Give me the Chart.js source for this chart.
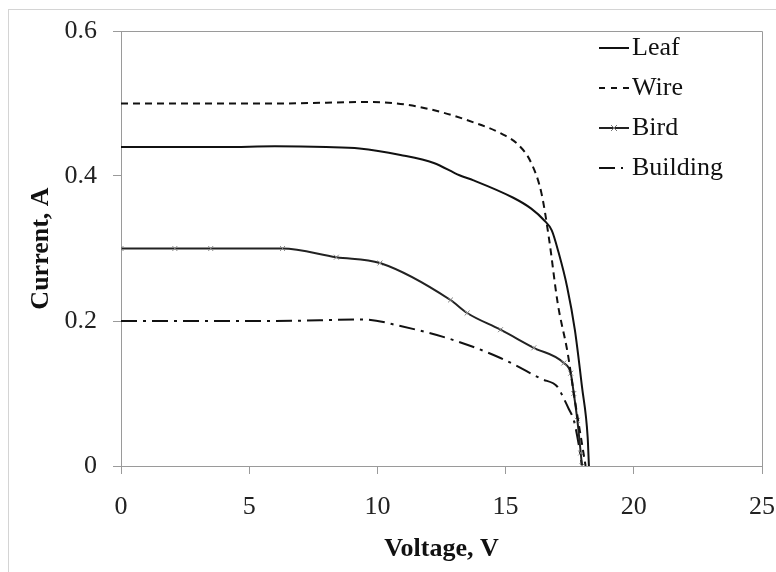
<!DOCTYPE html>
<html>
<head>
<meta charset="utf-8">
<title>I-V curves</title>
<script src="https://cdn.jsdelivr.net/npm/chart.js@4.4.1/dist/chart.umd.min.js"></script>
<style>
    html, body { margin: 0; padding: 0; background: #fff; }
    #wrap { width: 776px; height: 572px; }
</style>
</head>
<body>
<div id="wrap"><canvas id="ivChart" width="776" height="572"></canvas></div>
<script>
// Series (voltage in V, current in A)
const seriesNames = ['Leaf', 'Wire', 'Bird', 'Building'];

const leafV = [0, 2, 4, 6, 8, 9.3, 10.9, 12.2, 13.2, 13.75, 15.3, 16.0, 16.5, 16.8, 17.07, 17.4, 17.7, 17.98, 18.2, 18.25];
const leafI = [0.44, 0.44, 0.44, 0.441, 0.44, 0.438, 0.429, 0.418, 0.401, 0.394, 0.37, 0.355, 0.339, 0.325, 0.294, 0.247, 0.188, 0.109, 0.04, 0];

const wireV = [0, 3, 6, 9.6, 11.2, 12.5, 13.75, 14.8, 15.5, 16.0, 16.4, 16.7, 17.03, 17.42, 17.66, 18.0, 18.12];
const wireI = [0.5, 0.5, 0.5, 0.502, 0.498, 0.488, 0.474, 0.459, 0.443, 0.418, 0.376, 0.312, 0.225, 0.156, 0.1, 0.026, 0];

const birdV = [0, 2.1, 3.5, 6.3, 8.4, 10.1, 12.85, 13.5, 14.8, 16.1, 17.27, 17.54, 17.66, 17.8, 17.93, 17.98];
const birdI = [0.3, 0.3, 0.3, 0.3, 0.288, 0.28, 0.229, 0.211, 0.188, 0.163, 0.142, 0.128, 0.1, 0.063, 0.018, 0];

const buildingV = [0, 3, 6, 9.5, 10.9, 12.85, 14.8, 16.4, 17.03, 17.2, 17.46, 17.66, 17.85, 17.98];
const buildingI = [0.2, 0.2, 0.2, 0.202, 0.193, 0.175, 0.149, 0.12, 0.109, 0.098, 0.079, 0.063, 0.03, 0];

// Axis ticks
const xTicks = [0, 5, 10, 15, 20, 25];
const yTicks = [0, 0.2, 0.4, 0.6];

const serif = "'Liberation Serif', 'Times New Roman', serif";

// turn two arrays into {x, y} points
function toPoints(vs, is) {
    return vs.map((v, i) => ({ x: v, y: is[i] }));
}

// white background + light outer frame
const framePlugin = {
    id: 'frame',
    beforeDraw(chart) {
        const ctx = chart.ctx;
        ctx.save();
        ctx.fillStyle = '#fff';
        ctx.fillRect(0, 0, chart.width, chart.height);
        ctx.strokeStyle = '#d4d4d4';
        ctx.lineWidth = 1;
        ctx.strokeRect(8.5, 9.5, chart.width + 20, chart.height + 20);
        ctx.restore();
    },
    afterDraw(chart) {
        // top and right edge of the plot area
        const a = chart.chartArea;
        const ctx = chart.ctx;
        ctx.save();
        ctx.strokeStyle = '#9a9a9a';
        ctx.lineWidth = 1;
        ctx.beginPath();
        ctx.moveTo(Math.round(a.left) + 0.5, Math.round(a.top) + 0.5);
        ctx.lineTo(Math.round(a.right) + 0.5, Math.round(a.top) + 0.5);
        ctx.lineTo(Math.round(a.right) + 0.5, Math.round(a.bottom) + 0.5);
        ctx.stroke();
        ctx.restore();
    }
};

// legend drawn by hand so the line samples show the dash patterns
const legendPlugin = {
    id: 'lineLegend',
    afterDraw(chart) {
        const ctx = chart.ctx;
        ctx.save();
        ctx.font = '26px ' + serif;
        ctx.textBaseline = 'middle';
        ctx.fillStyle = '#111';
        chart.data.datasets.forEach((ds, i) => {
            const y = 48 + i * 40;
            ctx.strokeStyle = ds.borderColor;
            ctx.lineWidth = 2;
            ctx.setLineDash(ds.legendDash || []);
            ctx.beginPath();
            ctx.moveTo(599, y);
            ctx.lineTo(629, y);
            ctx.stroke();
            ctx.setLineDash([]);
            if (ds.pointRadius > 0) {
                ctx.strokeStyle = '#777';
                ctx.lineWidth = 1;
                ctx.beginPath();
                ctx.moveTo(611, y - 3); ctx.lineTo(617, y + 3);
                ctx.moveTo(617, y - 3); ctx.lineTo(611, y + 3);
                ctx.stroke();
            }
            ctx.fillText(ds.label, 632, y);
        });
        ctx.restore();
    }
};

const ctx = document.getElementById('ivChart').getContext('2d');

new Chart(ctx, {
    type: 'line',
    data: {
        datasets: [
            {
                label: seriesNames[0],
                data: toPoints(leafV, leafI),
                borderColor: '#111',
                borderWidth: 2,
                pointRadius: 0
            },
            {
                label: seriesNames[1],
                data: toPoints(wireV, wireI),
                borderColor: '#111',
                borderWidth: 2,
                borderDash: [7, 5],
                legendDash: [6, 6],
                pointRadius: 0
            },
            {
                label: seriesNames[2],
                data: toPoints(birdV, birdI),
                borderColor: '#222',
                borderWidth: 2,
                pointRadius: 3.5,
                pointStyle: 'crossRot',
                pointBorderColor: '#888',
                pointBorderWidth: 1
            },
            {
                label: seriesNames[3],
                data: toPoints(buildingV, buildingI),
                borderColor: '#111',
                borderWidth: 2,
                borderDash: [16, 6, 3, 6],
                legendDash: [16, 6, 2, 6],
                pointRadius: 0
            }
        ]
    },
    options: {
        responsive: false,
        animation: false,
        cubicInterpolationMode: 'monotone',
        layout: { padding: { top: 31, right: 14, left: 0, bottom: 0 } },
        plugins: {
            legend: { display: false },
            tooltip: { enabled: false }
        },
        scales: {
            x: {
                type: 'linear',
                min: 0,
                max: 25,
                afterBuildTicks: (scale) => { scale.ticks = xTicks.map(v => ({ value: v })); },
                afterFit: (scale) => {
                    scale.height = 106;
                    scale.paddingLeft = 0;
                    scale.paddingRight = 0;
                },
                ticks: {
                    font: { family: serif, size: 26 },
                    color: '#222',
                    padding: 18,
                    maxRotation: 0,
                    callback: (v) => String(v)
                },
                grid: { drawOnChartArea: false, drawTicks: true, tickLength: 8, color: '#9a9a9a' },
                border: { color: '#9a9a9a', width: 1 },
                title: {
                    display: true,
                    text: 'Voltage, V',
                    font: { family: serif, size: 26, weight: 'bold' },
                    color: '#111',
                    padding: { top: 0, bottom: 7 }
                }
            },
            y: {
                type: 'linear',
                min: 0,
                max: 0.6,
                afterBuildTicks: (scale) => { scale.ticks = yTicks.map(v => ({ value: v })); },
                afterFit: (scale) => {
                    scale.width = 121;
                    scale.paddingTop = 0;
                    scale.paddingBottom = 0;
                },
                ticks: {
                    font: { family: serif, size: 26 },
                    color: '#222',
                    padding: 16,
                    callback: (v) => String(Math.round(v * 10) / 10)
                },
                grid: { drawOnChartArea: false, drawTicks: true, tickLength: 8, color: '#9a9a9a' },
                border: { color: '#9a9a9a', width: 1 },
                title: {
                    display: true,
                    text: 'Current, A',
                    font: { family: serif, size: 26, weight: 'bold' },
                    color: '#111',
                    padding: { top: 26, bottom: 0 }
                }
            }
        }
    },
    plugins: [framePlugin, legendPlugin]
});
</script>
</body>
</html>
